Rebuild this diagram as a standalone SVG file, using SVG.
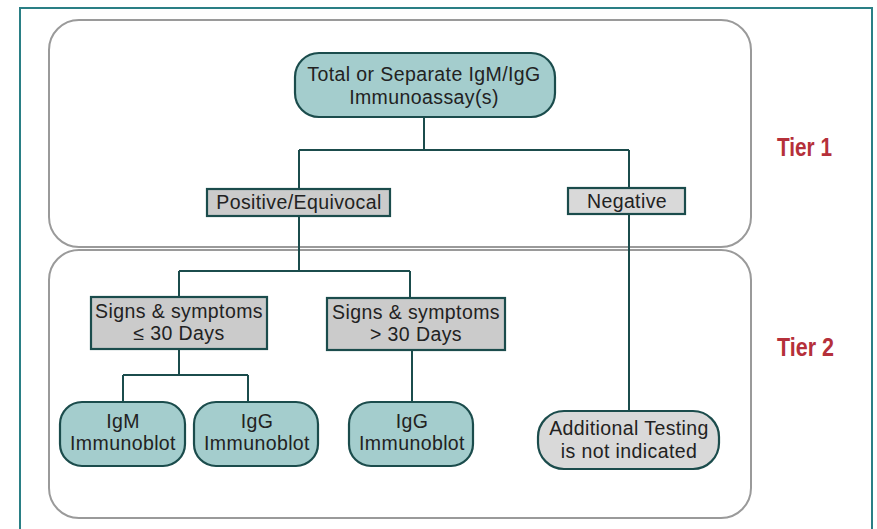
<svg xmlns="http://www.w3.org/2000/svg" width="877" height="529" viewBox="0 0 877 529">
<style>
.t{font-family:"Liberation Sans",Arial,sans-serif;font-size:19.5px;letter-spacing:0.4px;fill:#222;text-anchor:middle}
.tier{font-family:"Liberation Sans",Arial,sans-serif;font-size:25px;font-weight:bold;fill:#b5303a;text-anchor:start}
.pill{fill:#a4cdcd;stroke:#1b4c4c;stroke-width:2.2}
.gpill{fill:#d9d9d9;stroke:#1b4c4c;stroke-width:2.2}
.box{fill:#cbcbcb;stroke:#1b4c4c;stroke-width:2.2}
.lbox{fill:#d9d9d9;stroke:#1b4c4c;stroke-width:2.2}
.tierbox{fill:#fff;stroke:#9a9a9a;stroke-width:2}
.c{fill:none;stroke:#1b4c4c;stroke-width:2}
</style>
<rect x="0" y="0" width="877" height="529" fill="#fff"/>
<rect x="20" y="8" width="852" height="540" fill="#fff" stroke="#2a7f85" stroke-width="2"/>
<g id="tier1-panel">
<rect class="tierbox" x="49" y="20" width="702" height="227" rx="30"/>
</g>
<g id="tier2-panel">
<rect class="tierbox" x="49" y="250" width="702" height="268" rx="30"/>
</g>
<g id="connectors">
<path class="c" d="M424 117 V150 M299 150 H629 M299 150 V189 M629 150 V188"/>
<path class="c" d="M299 216 V271 M179 271 H410 M179 271 V297 M410 271 V298"/>
<path class="c" d="M179 349 V375 M123 375 H248 M123 375 V402 M248 375 V402"/>
<path class="c" d="M412 350 V402"/>
<path class="c" d="M629 214 V411"/>
</g>
<g id="immunoassay">
<rect class="pill" x="295" y="53" width="260" height="64" rx="24"/>
<text class="t" x="424" y="81">Total or Separate IgM/IgG</text>
<text class="t" x="424" y="104">Immunoassay(s)</text>
</g>
<g id="positive">
<rect class="box" x="207" y="189" width="183" height="27"/>
<text class="t" x="299" y="209">Positive/Equivocal</text>
</g>
<g id="negative">
<rect class="lbox" x="568" y="188" width="117" height="26"/>
<text class="t" x="627" y="208">Negative</text>
</g>
<g id="signs-le30">
<rect class="box" x="91" y="297" width="176" height="52"/>
<text class="t" x="179" y="318">Signs &amp; symptoms</text>
<text class="t" x="179" y="340">≤ 30 Days</text>
</g>
<g id="signs-gt30">
<rect class="box" x="327" y="298" width="178" height="52"/>
<text class="t" x="416" y="319">Signs &amp; symptoms</text>
<text class="t" x="416" y="341">&gt; 30 Days</text>
</g>
<g id="igm-immunoblot">
<rect class="pill" x="60" y="402" width="125" height="64" rx="22"/>
<text class="t" x="123" y="428">IgM</text>
<text class="t" x="123" y="450">Immunoblot</text>
</g>
<g id="igg-immunoblot-1">
<rect class="pill" x="194" y="402" width="124" height="64" rx="22"/>
<text class="t" x="257" y="428">IgG</text>
<text class="t" x="257" y="450">Immunoblot</text>
</g>
<g id="igg-immunoblot-2">
<rect class="pill" x="349" y="402" width="124" height="64" rx="22"/>
<text class="t" x="412" y="428">IgG</text>
<text class="t" x="412" y="450">Immunoblot</text>
</g>
<g id="additional-testing">
<rect class="gpill" x="538" y="411" width="181" height="58" rx="26"/>
<text class="t" x="629" y="435">Additional Testing</text>
<text class="t" x="629" y="458">is not indicated</text>
</g>
<g id="tier-labels">
<text class="tier" x="777" y="156" textLength="55" lengthAdjust="spacingAndGlyphs">Tier 1</text>
<text class="tier" x="777" y="356" textLength="57" lengthAdjust="spacingAndGlyphs">Tier 2</text>
</g>
</svg>
